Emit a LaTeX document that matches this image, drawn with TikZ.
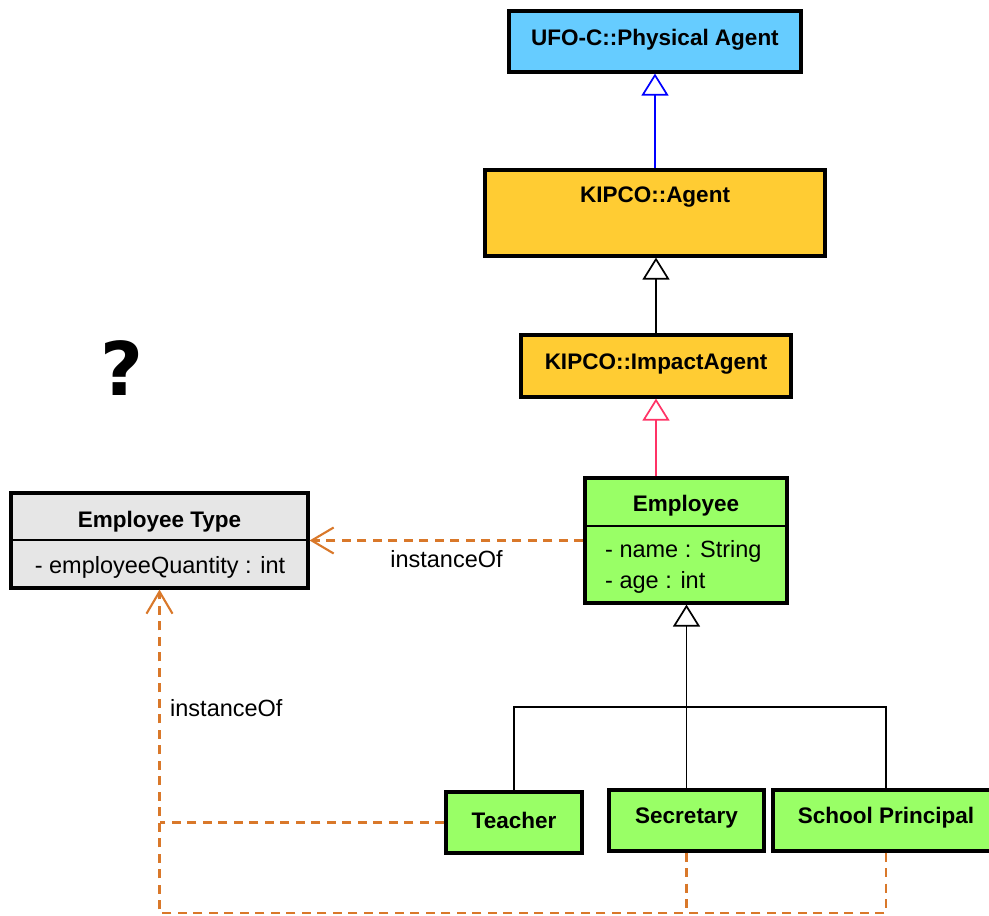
\documentclass[tikz,border=0pt]{standalone}
\usepackage{fontspec}
\setmainfont{Liberation Sans}
\newfontfamily\qfont{DejaVu Sans}
\usetikzlibrary{arrows.meta,calc}
\definecolor{ufoblue}{HTML}{66CCFF}
\definecolor{kipco}{HTML}{FFCC33}
\definecolor{empgreen}{HTML}{99FF66}
\definecolor{typegray}{HTML}{E6E6E6}
\definecolor{instorange}{HTML}{D9782A}
\definecolor{genpink}{HTML}{FF3366}
\tikzset{
  umlbox/.style={draw=black, line width=3.2pt, inner sep=0pt},
  title/.style={font=\fontsize{22.5}{26}\selectfont\bfseries, inner sep=0pt},
  attr/.style={font=\fontsize{23.5}{27}\selectfont, inner sep=0pt},
  sep/.style={line width=1.6pt},
  gen/.style={line width=1.7pt, -{Triangle[open, length=22pt, width=27pt, fill=white, line width=1.7pt]}},
  genline/.style={line width=1.7pt},
  inst/.style={draw=instorange, line width=2.1pt, dash pattern=on 9pt off 6.5pt},
  instarrow/.style={inst, -{Straight Barb[length=22pt, width=26pt, line width=2.1pt]}},
}
\begin{document}
\begin{tikzpicture}[x=1pt, y=-1pt]
\useasboundingbox[fill=white] (0,0) rectangle (989,916);

% class boxes
\node[umlbox, fill=ufoblue, minimum width=292pt, minimum height=61pt] (ufo) at (655,41.5) {};
\node[title] (ufot) at (655,40) {UFO-C::Physical Agent};

\node[umlbox, fill=kipco, minimum width=340pt, minimum height=86pt] (agent) at (655,213) {};
\node[title] (agentt) at (655,197) {KIPCO::Agent};

\node[umlbox, fill=kipco, minimum width=270pt, minimum height=62pt] (impact) at (656,366) {};
\node[title] (impactt) at (656,364) {KIPCO::ImpactAgent};

\node[umlbox, fill=empgreen, minimum width=202pt, minimum height=125pt] (emp) at (686,540.5) {};
\node[title] (empt) at (686,506) {Employee};
\draw[sep] (emp.west |- 0,526) -- (emp.east |- 0,526);
\node[attr, anchor=west] (empa1) at (605,551) {- name : String};
\node[attr, anchor=west] (empa2) at (605,582) {- age : int};

\node[umlbox, fill=typegray, minimum width=297pt, minimum height=95pt] (etype) at (159.5,540.5) {};
\node[title] (etypet) at (159.5,522) {Employee Type};
\draw[sep] (etype.west |- 0,540) -- (etype.east |- 0,540);
\node[attr] (etypea) at (160,567) {- employeeQuantity : int};

\node[umlbox, fill=empgreen, minimum width=136pt, minimum height=61pt] (teacher) at (514,822.5) {};
\node[title] (teachert) at (514,820) {Teacher};

\node[umlbox, fill=empgreen, minimum width=155pt, minimum height=61pt] (secretary) at (686.5,820.5) {};
\node[title] (secretaryt) at (686.5,818) {Secretary};

\node[umlbox, fill=empgreen, minimum width=226pt, minimum height=61pt] (principal) at (886,820.5) {};
\node[title] (principalt) at (886,818) {School Principal};

% question mark
\node[font=\qfont\fontsize{74}{80}\selectfont\bfseries, inner sep=0pt] (qmark) at (122,368) {?};

% generalizations
\draw[gen, draw=blue] (agent.north) -- (ufo.south);
\draw[gen] (impact.north) -- (impact.north |- agent.south);
\draw[gen, draw=genpink] (impact.south |- emp.north) -- (impact.south);

\coordinate (junction) at (686.5,707);
\draw[gen] (secretary.north) -- (secretary.north |- emp.south);
\draw[genline] (teacher.north) |- (junction) -| (principal.north);

% instanceOf links
\draw[instarrow] (emp.west) -- (etype.east)
  node[pos=0.5, below=9pt, attr, text=black] (lbl1) {instanceOf};

\coordinate (bl) at (etype.south |- 0,913);
\draw[inst] (teacher.west) -- (teacher.west -| etype.south);
\draw[inst] (secretary.south) -- (secretary.south |- bl);
\draw[instarrow] (principal.south) -- (principal.south |- bl) -- (bl) -- (etype.south);
\node[attr, anchor=west] (lbl2) at (170,708) {instanceOf};
\end{tikzpicture}
\end{document}
